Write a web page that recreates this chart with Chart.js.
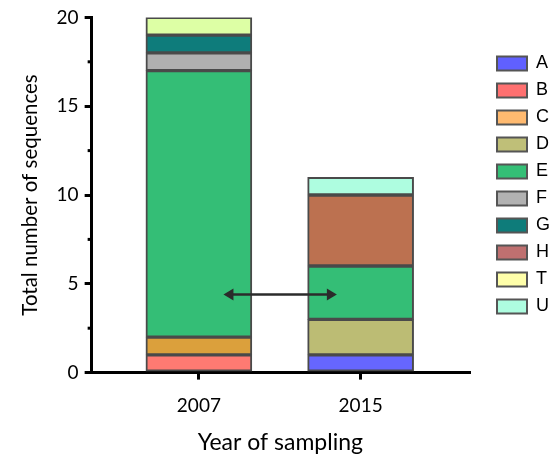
<!DOCTYPE html>
<html>
<head>
<meta charset="utf-8">
<script src="https://cdn.jsdelivr.net/npm/chart.js@4/dist/chart.umd.min.js"></script>
<style>
html,body{margin:0;padding:0;background:#fff;}
#wrap{width:558px;height:464px;}
</style>
</head>
<body>
<div id="wrap"><canvas id="c" width="558" height="464"></canvas></div>
<script>
// ---- data ----
const years = ['2007', '2015'];
const seriesNames = ['A', 'B', 'C', 'D', 'E', 'F', 'G', 'H', 'T', 'U'];
const A = [null, 1];
const B = [1, null];
const C = [1, null];
const D = [null, 2];
const E = [15, 3];
const F = [1, null];
const G = [1, null];
const H = [null, 4];
const T = [1, null];
const U = [null, 1];
const seriesValues = [A, B, C, D, E, F, G, H, T, U];
const yTicks = [0, 5, 10, 15, 20];
const yMinorTicks = [2.5, 7.5, 12.5, 17.5];
// arrow annotation (x in category index units, y in data units)
const arrowFrom = [0.152, 4.4];
const arrowTo = [0.853, 4.4];

// ---- styles ----
const barColors = ['#6666FF', '#FF7A72', '#DBA03C', '#BCBC74', '#34BE76', '#B0B0B0', '#0E7C7B', '#BC7150', '#DDFFA5', '#AEFDE0'];
const legendColors = ['#6060FF', '#FF7070', '#FFBA70', '#BFBF78', '#34BF76', '#B2B2B2', '#0E7C7A', '#BF7070', '#FFFFAA', '#AEFDE0'];
const edge = '#4a4a4a';
const fam = 'Lato, "Open Sans", sans-serif';
const legendShift = 19;

const datasets = seriesNames.map((name, i) => ({
  label: name,
  data: seriesValues[i].map((v, j) => ({x: j, y: v})),
  backgroundColor: barColors[i],
  borderColor: edge,
  borderWidth: 2,
  borderSkipped: false,
  barThickness: 106
}));

const extras = {
  id: 'extras',
  afterLayout(chart) {
    const lg = chart.legend;
    if (lg) { lg.left += legendShift; lg.right += legendShift; }
  },
  afterDraw(chart) {
    const ctx = chart.ctx;
    const xs = chart.scales.x, ys = chart.scales.y;
    ctx.save();
    ctx.strokeStyle = '#000';
    ctx.lineWidth = 3;
    const xl = chart.chartArea.left;
    yMinorTicks.forEach(v => {
      const py = ys.getPixelForValue(v);
      ctx.beginPath();
      ctx.moveTo(xl - 4, py);
      ctx.lineTo(xl, py);
      ctx.stroke();
    });
    const x1 = xs.getPixelForValue(arrowFrom[0]), y1 = ys.getPixelForValue(arrowFrom[1]);
    const x2 = xs.getPixelForValue(arrowTo[0]), y2 = ys.getPixelForValue(arrowTo[1]);
    ctx.strokeStyle = '#2b2b2b';
    ctx.fillStyle = '#2b2b2b';
    ctx.lineWidth = 2.5;
    const hl = 10, hw = 6;
    ctx.beginPath();
    ctx.moveTo(x1 + hl - 2, y1);
    ctx.lineTo(x2 - hl + 2, y2);
    ctx.stroke();
    ctx.beginPath();
    ctx.moveTo(x1, y1); ctx.lineTo(x1 + hl, y1 - hw); ctx.lineTo(x1 + hl, y1 + hw); ctx.closePath(); ctx.fill();
    ctx.beginPath();
    ctx.moveTo(x2, y2); ctx.lineTo(x2 - hl, y2 - hw); ctx.lineTo(x2 - hl, y2 + hw); ctx.closePath(); ctx.fill();
    ctx.restore();
  }
};

new Chart(document.getElementById('c'), {
  type: 'bar',
  data: {datasets},
  options: {
    responsive: false,
    animation: false,
    layout: {padding: {top: 5, left: 14, right: 2, bottom: 8}},
    plugins: {
      tooltip: {enabled: false},
      legend: {
        position: 'right',
        align: 'start',
        title: {display: true, text: ' ', padding: 13, font: {size: 12}},
        labels: {
          boxWidth: 30,
          boxHeight: 14,
          padding: 9,
          color: '#000',
          font: {family: '"Liberation Sans", Arial, sans-serif', size: 18},
          generateLabels(chart) {
            return chart.data.datasets.map((ds, i) => ({
              text: ds.label,
              fillStyle: legendColors[i],
              strokeStyle: '#555',
              fontColor: '#000',
              lineWidth: 2,
              hidden: false,
              datasetIndex: i
            }));
          }
        }
      }
    },
    scales: {
      x: {
        type: 'linear',
        stacked: true,
        offset: false,
        min: -0.663,
        max: 1.67,
        afterBuildTicks(scale) { scale.ticks = years.map((y, i) => ({value: i})); },
        afterFit(scale) { scale.paddingRight = 89; },
        ticks: {
          callback: (v) => years[v],
          color: '#000',
          font: {family: fam, size: 19},
          padding: 15
        },
        grid: {drawOnChartArea: false, drawTicks: true, tickLength: 7, color: '#000', lineWidth: 3, offset: false},
        border: {color: '#000', width: 3},
        title: {display: true, text: 'Year of sampling', color: '#000', font: {family: fam, size: 23}, padding: {top: -4, bottom: 0}}
      },
      y: {
        stacked: true,
        min: 0,
        max: 20,
        afterBuildTicks(scale) { scale.ticks = yTicks.map(v => ({value: v})); },
        ticks: {color: '#000', font: {family: fam, size: 19}, padding: 6},
        grid: {drawOnChartArea: false, drawTicks: true, tickLength: 7, color: '#000', lineWidth: 3},
        border: {color: '#000', width: 3},
        title: {display: true, text: 'Total number of sequences', color: '#000', font: {family: fam, size: 20.5}, padding: {bottom: 8}}
      }
    }
  },
  plugins: [extras]
});
</script>
</body>
</html>
